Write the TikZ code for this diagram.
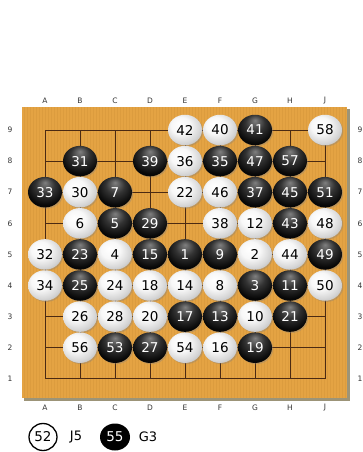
\documentclass[tikz,border=0pt]{standalone}
\usepackage{fontspec}
\setmainfont{DejaVu Sans}
\usetikzlibrary{shapes.geometric,shadows}
\definecolor{board}{HTML}{E4A343}
\definecolor{boardstripe}{HTML}{D6963A}
\definecolor{boardedge}{HTML}{9C9478}
\definecolor{gridc}{HTML}{4B2A12}
\definecolor{labc}{HTML}{333333}
\pgfdeclareradialshading{wstone}{\pgfpoint{-9bp}{10bp}}{color(0bp)=(white); color(14bp)=(white!97!black); color(26bp)=(white!84!black); color(38bp)=(white!66!black); color(50bp)=(white!55!black)}
\pgfdeclareradialshading{bstone}{\pgfpoint{0bp}{16bp}}{color(0bp)=(black!50); color(14bp)=(black!80); color(28bp)=(black!97); color(50bp)=(black)}
\tikzset{
  stone/.style={ellipse, minimum width=34pt, minimum height=30.5pt, inner sep=0pt,
    font=\fontsize{13.5}{14}\selectfont,
    drop shadow={shadow xshift=1.2pt, shadow yshift=-1.2pt, opacity=0.35}},
  stw/.style={stone, shading=wstone, text=black},
  stb/.style={stone, shading=bstone, text=white},
  lab/.style={font=\fontsize{7.5}{8}\selectfont, text=labc, inner sep=0pt},
  legtext/.style={font=\fontsize{13}{14}\selectfont, text=black, inner sep=0pt},
}
\begin{document}
\begin{tikzpicture}[x=1pt,y=-1pt]
\useasboundingbox (0,0) rectangle (363,452);
% board
\fill[boardedge] (24,109) rectangle (350,401);
\fill[board] (22,107) rectangle (347,398);
\foreach \x in {24,27,...,346} \draw[boardstripe, line width=0.5pt, opacity=0.5] (\x,107) -- (\x,398);
% grid
\foreach \i in {0,...,8} \draw[gridc, line width=0.8pt] ({45+35*\i},130) -- ({45+35*\i},378.8);
\foreach \r in {0,...,8} \draw[gridc, line width=0.8pt] (45,{130+31.1*\r}) -- (325,{130+31.1*\r});
% coordinate labels
\foreach \l [count=\i from 0] in {A,B,C,D,E,F,G,H,J} {
  \node[lab] (top\l) at ({45+35*\i},101) {\l};
  \node[lab] (bot\l) at ({45+35*\i},408) {\l};
}
\foreach \r in {1,...,9} {
  \node[lab] (left\r) at (10,{130+31.1*(9-\r)}) {\r};
  \node[lab] (right\r) at (360,{130+31.1*(9-\r)}) {\r};
}
% stones: column index / row / number / colour
\foreach \i/\r/\n/\t in {
  4/9/42/w, 5/9/40/w, 6/9/41/b, 8/9/58/w,
  1/8/31/b, 3/8/39/b, 4/8/36/w, 5/8/35/b, 6/8/47/b, 7/8/57/b,
  0/7/33/b, 1/7/30/w, 2/7/7/b, 4/7/22/w, 5/7/46/w, 6/7/37/b, 7/7/45/b, 8/7/51/b,
  1/6/6/w, 2/6/5/b, 3/6/29/b, 5/6/38/w, 6/6/12/w, 7/6/43/b, 8/6/48/w,
  0/5/32/w, 1/5/23/b, 2/5/4/w, 3/5/15/b, 4/5/1/b, 5/5/9/b, 6/5/2/w, 7/5/44/w, 8/5/49/b,
  0/4/34/w, 1/4/25/b, 2/4/24/w, 3/4/18/w, 4/4/14/w, 5/4/8/w, 6/4/3/b, 7/4/11/b, 8/4/50/w,
  1/3/26/w, 2/3/28/w, 3/3/20/w, 4/3/17/b, 5/3/13/b, 6/3/10/w, 7/3/21/b,
  1/2/56/w, 2/2/53/b, 3/2/27/b, 4/2/54/w, 5/2/16/w, 6/2/19/b}
  \node[st\t] (s\n) at ({45+35*\i},{130+31.1*(9-\r)}) {\n};
% legend
\node[ellipse, draw=black, line width=1.3pt, fill=white, minimum width=28pt, minimum height=27pt, inner sep=0pt, font=\fontsize{13.5}{14}\selectfont] (leg52) at (43,437) {52};
\node[legtext] (legJ5) at (76,437) {J5};
\node[ellipse, fill=black, minimum width=30pt, minimum height=27pt, inner sep=0pt, text=white, font=\fontsize{13.5}{14}\selectfont] (leg55) at (115,437) {55};
\node[legtext] (legG3) at (148,437) {G3};
\end{tikzpicture}
\end{document}
